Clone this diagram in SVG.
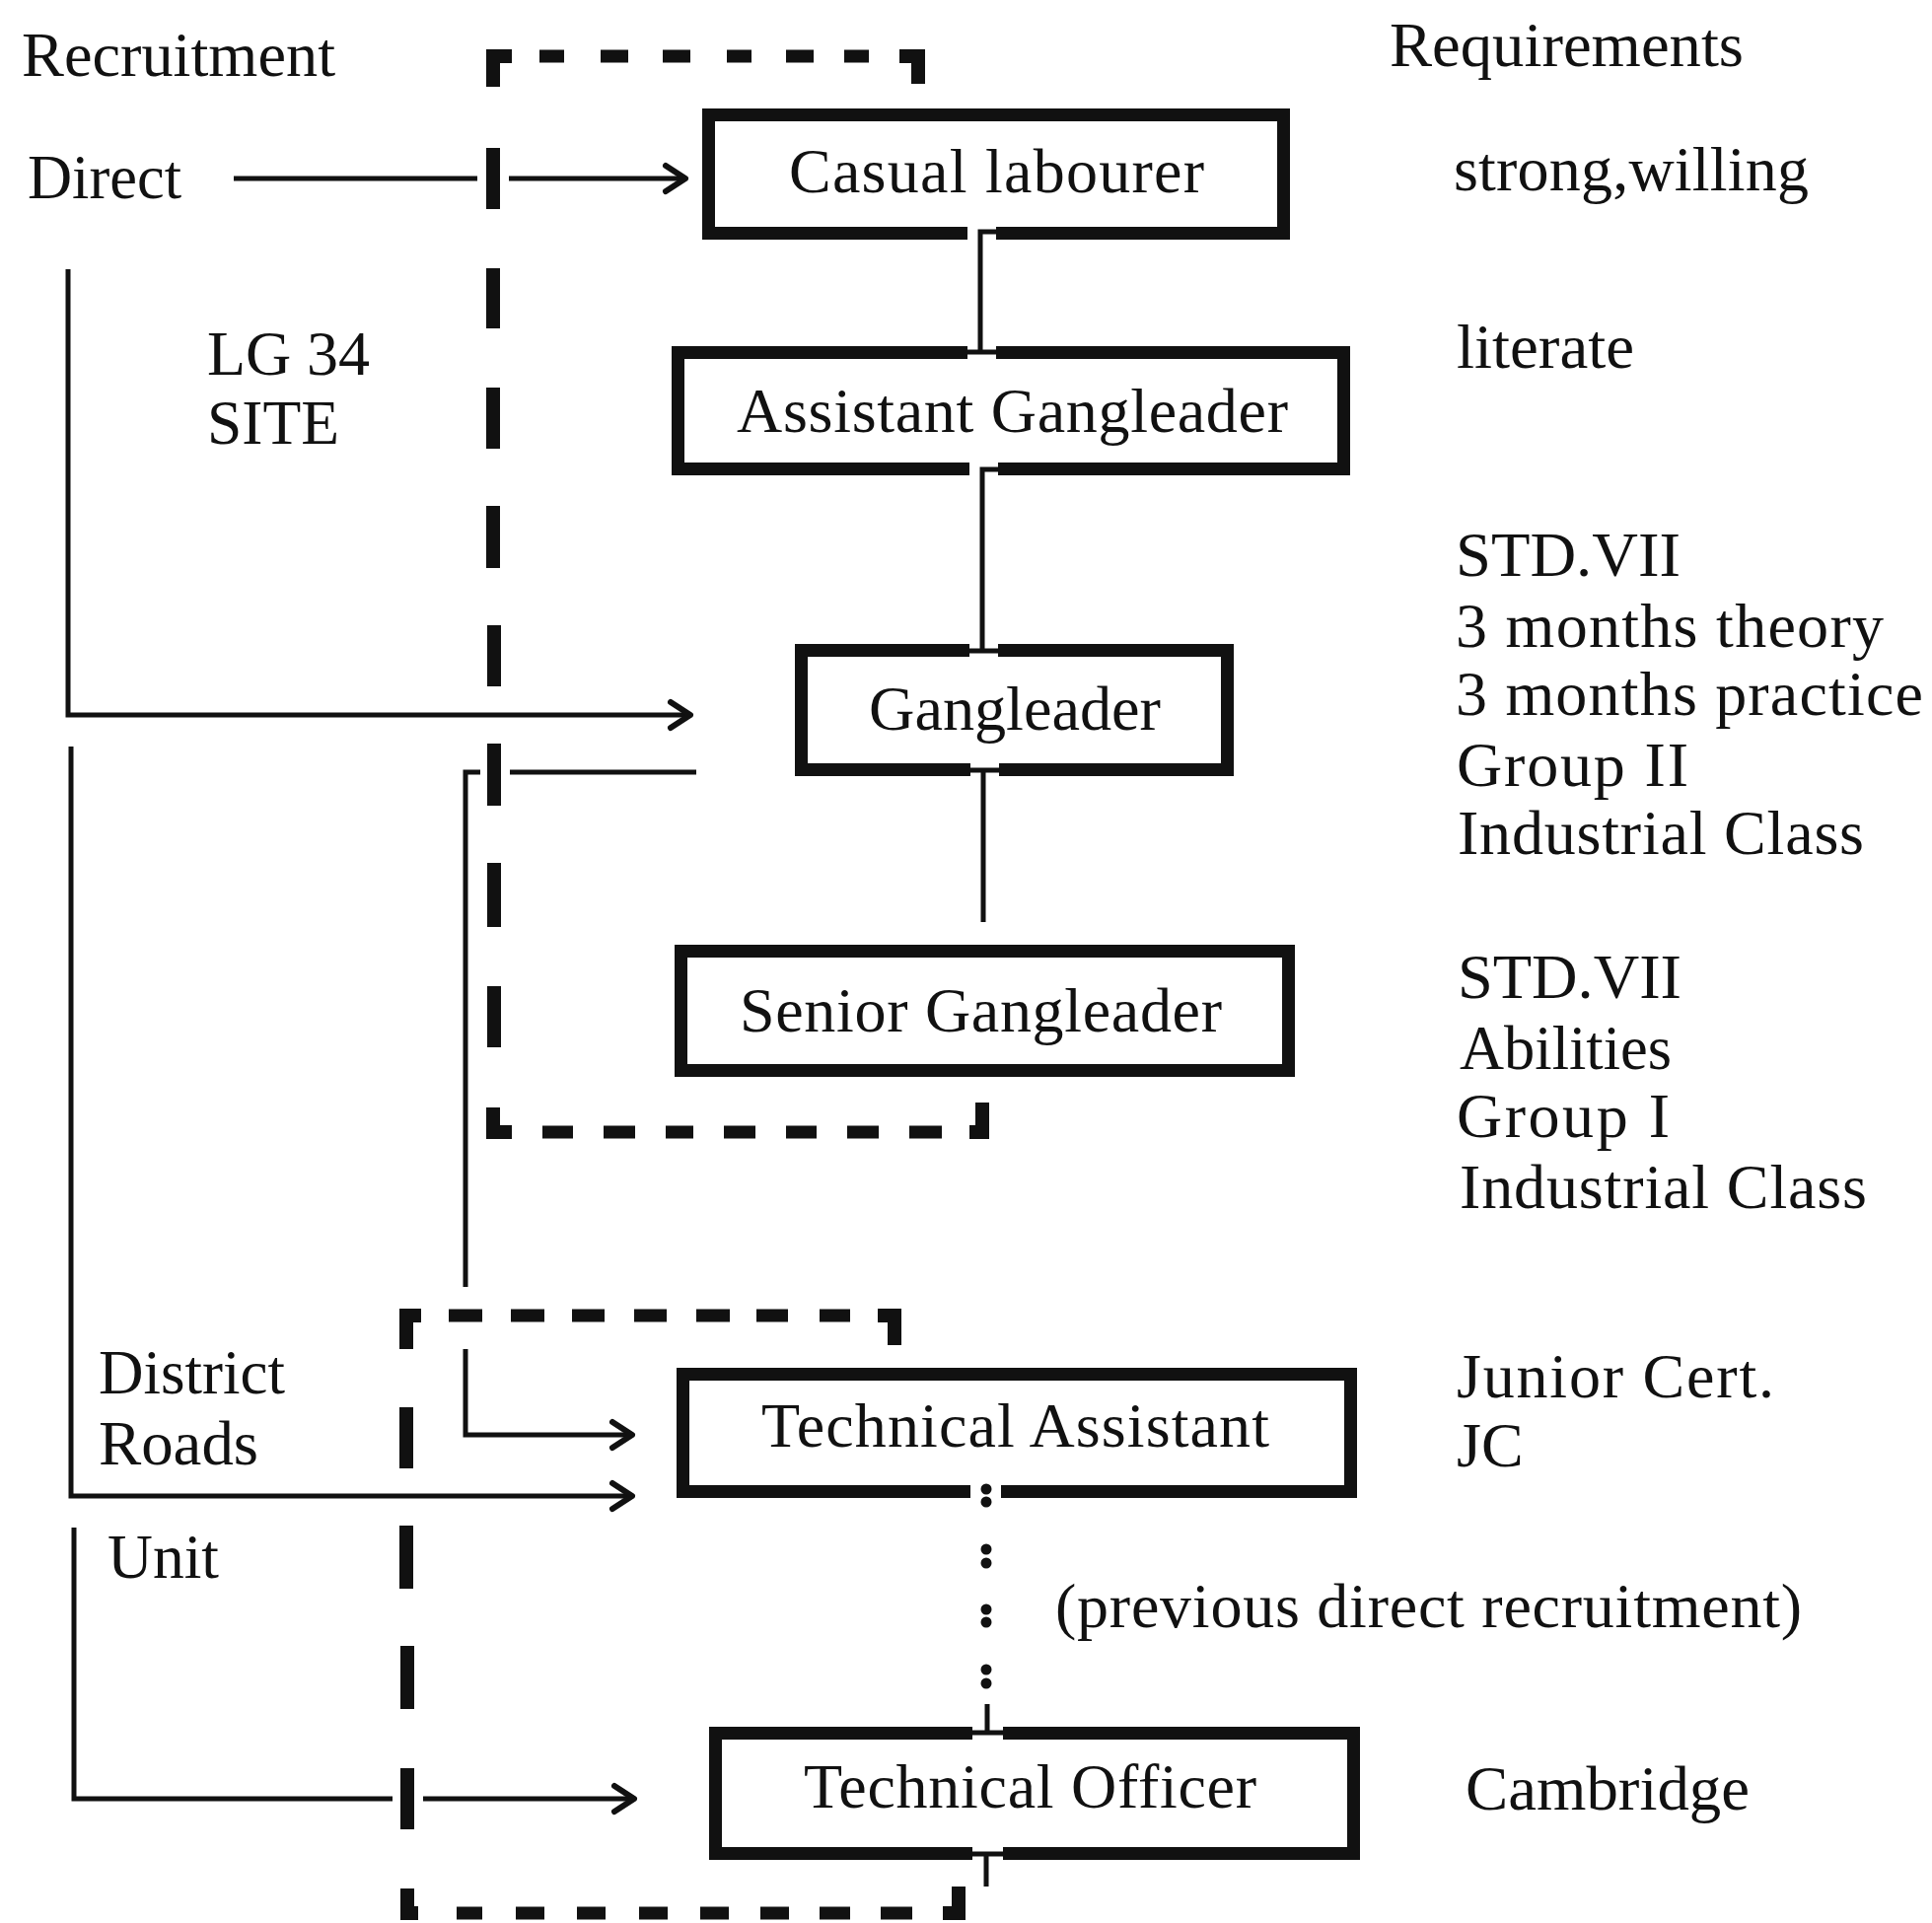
<svg xmlns="http://www.w3.org/2000/svg" width="1959" height="1950" viewBox="0 0 1959 1950">
<style>
text{font-family:"Liberation Serif","Times New Roman",serif;font-size:64px;fill:#111}
.box{fill:none;stroke:#111;stroke-width:13}
.gap{fill:#fff;stroke:none}
.ln{fill:none;stroke:#111;stroke-width:5}
.dh{stroke:#111;stroke-width:13;stroke-linecap:butt}
.dv{stroke:#111;stroke-width:14;stroke-linecap:butt}
.dc{fill:none;stroke:#111;stroke-width:14;stroke-linejoin:miter}
.dot{fill:#111}
</style>
<defs>
<marker id="chev" markerUnits="userSpaceOnUse" markerWidth="34" markerHeight="34" viewBox="0 0 34 34" refX="28" refY="17" orient="auto">
<path d="M8,4 L28,17 L8,30" fill="none" stroke="#111" stroke-width="6" stroke-linejoin="round" stroke-linecap="round"/>
</marker>
</defs>
<rect width="1959" height="1950" fill="#fff"/>

<g id="labels">
<text x="22" y="77" textLength="318" lengthAdjust="spacingAndGlyphs">Recruitment</text>
<text x="1409" y="67" textLength="359" lengthAdjust="spacingAndGlyphs">Requirements</text>
<text x="28" y="201" textLength="156" lengthAdjust="spacingAndGlyphs">Direct</text>
<text x="210" y="380" textLength="165" lengthAdjust="spacing">LG 34</text>
<text x="210" y="450" textLength="134" lengthAdjust="spacingAndGlyphs">SITE</text>
<text x="100" y="1413" textLength="189" lengthAdjust="spacingAndGlyphs">District</text>
<text x="100" y="1485" textLength="162" lengthAdjust="spacingAndGlyphs">Roads</text>
<text x="109" y="1600" textLength="113" lengthAdjust="spacingAndGlyphs">Unit</text>
</g>

<g id="requirements">
<text x="1474" y="193" textLength="360" lengthAdjust="spacing">strong,willing</text>
<text x="1477" y="373" textLength="180" lengthAdjust="spacingAndGlyphs">literate</text>
<text x="1476" y="584" textLength="228" lengthAdjust="spacingAndGlyphs">STD.VII</text>
<text x="1476" y="656" textLength="434" lengthAdjust="spacing">3 months theory</text>
<text x="1476" y="725" textLength="474" lengthAdjust="spacing">3 months practice</text>
<text x="1477" y="797" textLength="235" lengthAdjust="spacing">Group II</text>
<text x="1478" y="866" textLength="412" lengthAdjust="spacing">Industrial Class</text>
<text x="1478" y="1012" textLength="227" lengthAdjust="spacingAndGlyphs">STD.VII</text>
<text x="1480" y="1084" textLength="215" lengthAdjust="spacingAndGlyphs">Abilities</text>
<text x="1477" y="1153" textLength="216" lengthAdjust="spacing">Group I</text>
<text x="1480" y="1225" textLength="413" lengthAdjust="spacing">Industrial Class</text>
<text x="1477" y="1417" textLength="322" lengthAdjust="spacing">Junior Cert.</text>
<text x="1477" y="1487">JC</text>
<text x="1070" y="1650" textLength="757" lengthAdjust="spacing">(previous direct recruitment)</text>
<text x="1486" y="1835" textLength="288" lengthAdjust="spacingAndGlyphs">Cambridge</text>
</g>

<g id="node-casual-labourer">
<rect class="box" x="718.5" y="116.5" width="583" height="120"/>
<text x="800" y="195" textLength="421" lengthAdjust="spacing">Casual labourer</text>
</g>
<g id="node-assistant-gangleader">
<rect class="box" x="687.5" y="357.5" width="675" height="118"/>
<text x="747" y="438" textLength="559" lengthAdjust="spacing">Assistant Gangleader</text>
</g>
<g id="node-gangleader">
<rect class="box" x="812.5" y="659.5" width="432" height="121"/>
<text x="881" y="740" textLength="296" lengthAdjust="spacingAndGlyphs">Gangleader</text>
</g>
<g id="node-senior-gangleader">
<rect class="box" x="690.5" y="964.5" width="616" height="121"/>
<text x="750" y="1046" textLength="489" lengthAdjust="spacing">Senior Gangleader</text>
</g>
<g id="node-technical-assistant">
<rect class="box" x="692.5" y="1393.5" width="677" height="119"/>
<text x="772" y="1467" textLength="515" lengthAdjust="spacing">Technical Assistant</text>
</g>
<g id="node-technical-officer">
<rect class="box" x="725.5" y="1757.5" width="647" height="122"/>
<text x="815" y="1833" textLength="459" lengthAdjust="spacing">Technical Officer</text>
</g>

<g id="group-lg34-site">
<path class="dc" d="M500,88 V57 H519"/>
<path class="dc" d="M912,57 H931 V85"/>
<path class="dc" d="M500,1123 V1148 H519"/>
<path class="dc" d="M983,1148 H996 V1118"/>
<line class="dh" x1="547" y1="57" x2="572" y2="57"/>
<line class="dh" x1="609" y1="57" x2="637" y2="57"/>
<line class="dh" x1="672" y1="57" x2="700" y2="57"/>
<line class="dh" x1="737" y1="57" x2="762" y2="57"/>
<line class="dh" x1="797" y1="57" x2="825" y2="57"/>
<line class="dh" x1="856" y1="57" x2="881" y2="57"/>
<line class="dh" x1="550" y1="1148" x2="581" y2="1148"/>
<line class="dh" x1="612" y1="1148" x2="644" y2="1148"/>
<line class="dh" x1="675" y1="1148" x2="703" y2="1148"/>
<line class="dh" x1="734" y1="1148" x2="766" y2="1148"/>
<line class="dh" x1="797" y1="1148" x2="828" y2="1148"/>
<line class="dh" x1="859" y1="1148" x2="891" y2="1148"/>
<line class="dh" x1="922" y1="1148" x2="955" y2="1148"/>
<line class="dv" x1="500" y1="150" x2="500" y2="212"/>
<line class="dv" x1="500" y1="272" x2="500" y2="333"/>
<line class="dv" x1="500" y1="393" x2="500" y2="455"/>
<line class="dv" x1="500" y1="513" x2="500" y2="576"/>
<line class="dv" x1="501" y1="634" x2="501" y2="696"/>
<line class="dv" x1="501" y1="754" x2="501" y2="817"/>
<line class="dv" x1="501" y1="875" x2="501" y2="940"/>
<line class="dv" x1="501" y1="1000" x2="501" y2="1062"/>
</g>

<g id="group-district-roads-unit">
<path class="dc" d="M412,1368 V1334 H427"/>
<path class="dc" d="M890,1334 H907 V1364"/>
<path class="dc" d="M413,1915 V1940 H424"/>
<path class="dc" d="M956,1940 H972 V1913"/>
<line class="dh" x1="455" y1="1334" x2="489" y2="1334"/>
<line class="dh" x1="518" y1="1334" x2="552" y2="1334"/>
<line class="dh" x1="580" y1="1334" x2="613" y2="1334"/>
<line class="dh" x1="643" y1="1334" x2="676" y2="1334"/>
<line class="dh" x1="706" y1="1334" x2="740" y2="1334"/>
<line class="dh" x1="767" y1="1334" x2="799" y2="1334"/>
<line class="dh" x1="831" y1="1334" x2="862" y2="1334"/>
<line class="dh" x1="463" y1="1940" x2="489" y2="1940"/>
<line class="dh" x1="523" y1="1940" x2="552" y2="1940"/>
<line class="dh" x1="585" y1="1940" x2="614" y2="1940"/>
<line class="dh" x1="648" y1="1940" x2="677" y2="1940"/>
<line class="dh" x1="710" y1="1940" x2="739" y2="1940"/>
<line class="dh" x1="771" y1="1940" x2="800" y2="1940"/>
<line class="dh" x1="831" y1="1940" x2="862" y2="1940"/>
<line class="dh" x1="893" y1="1940" x2="925" y2="1940"/>
<line class="dv" x1="412" y1="1427" x2="412" y2="1489"/>
<line class="dv" x1="412" y1="1547" x2="412" y2="1611"/>
<line class="dv" x1="413" y1="1669" x2="413" y2="1733"/>
<line class="dv" x1="413" y1="1793" x2="413" y2="1855"/>
</g>

<g id="connectors">
<!-- gaps in box borders where connectors attach -->
<rect class="gap" x="981" y="228" width="29" height="16"/>
<rect class="gap" x="981" y="350" width="29" height="15"/>
<rect class="gap" x="983" y="469" width="29" height="14"/>
<rect class="gap" x="983" y="652" width="29" height="15"/>
<rect class="gap" x="984" y="773" width="29" height="15"/>
<rect class="gap" x="984" y="1505" width="31" height="15"/>
<rect class="gap" x="986" y="1750" width="31" height="15"/>
<rect class="gap" x="986" y="1873" width="31" height="15"/>

<path class="ln" d="M1010,235 H994 V357 M980,357 H1010"/>
<path class="ln" d="M1012,476 H996 V660 M983,660 H1012"/>
<path class="ln" d="M984,781 H1013 M997,781 V935"/>
<circle class="dot" cx="1000" cy="1510" r="5.5"/>
<circle class="dot" cx="1000" cy="1523" r="5.5"/>
<circle class="dot" cx="1000" cy="1571" r="5.5"/>
<circle class="dot" cx="1000" cy="1585" r="5.5"/>
<circle class="dot" cx="1000" cy="1632" r="5.5"/>
<circle class="dot" cx="1000" cy="1645" r="5.5"/>
<circle class="dot" cx="1000" cy="1693" r="5.5"/>
<circle class="dot" cx="1000" cy="1707" r="5.5"/>
<path class="ln" d="M1001,1728 V1757 M986,1757 H1017"/>
<path class="ln" d="M986,1880 H1017 M1000,1880 V1913"/>

<line class="ln" x1="237" y1="181" x2="484" y2="181"/>
<line class="ln" x1="516" y1="181" x2="695" y2="181" marker-end="url(#chev)"/>
<path class="ln" d="M69,273 V725 H700" marker-end="url(#chev)"/>
<line class="ln" x1="706" y1="783" x2="517" y2="783"/>
<path class="ln" d="M487,783 H472 V1305"/>
<path class="ln" d="M472,1368 V1455 H641" marker-end="url(#chev)"/>
<path class="ln" d="M72,757 V1517 H641" marker-end="url(#chev)"/>
<path class="ln" d="M75,1549 V1824 H398"/>
<line class="ln" x1="429" y1="1824" x2="643" y2="1824" marker-end="url(#chev)"/>
</g>
</svg>
